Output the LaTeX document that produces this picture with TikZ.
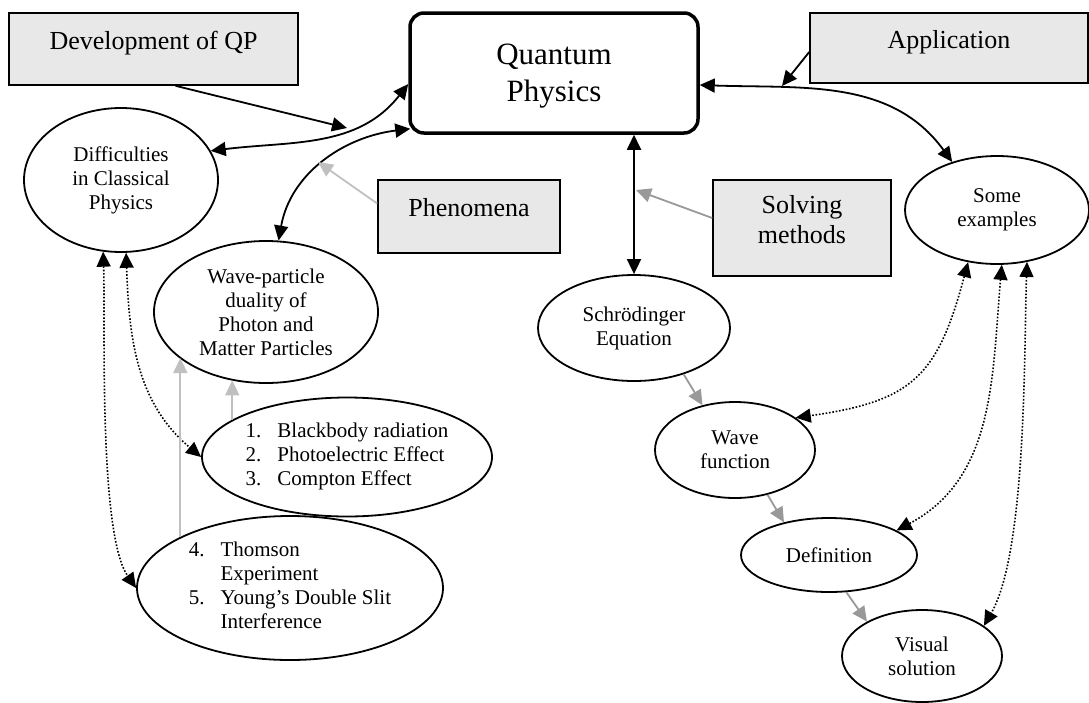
\documentclass[tikz,border=0pt]{standalone}
\usepackage{fontspec}
\setmainfont{Liberation Serif}
\usepackage{tikz}
\usetikzlibrary{shapes}
\usetikzlibrary{arrows.meta}
\definecolor{boxgray}{RGB}{232,232,232}
\definecolor{palegray}{RGB}{192,192,192}
\definecolor{midgray}{RGB}{153,153,153}
\newcommand{\qpfont}{\fontsize{31}{37}\selectfont}
\newcommand{\topicfont}{\fontsize{26}{30}\selectfont}
\newcommand{\ideafont}{\fontsize{21}{24}\selectfont}
\tikzstyle{topic}=[rectangle,draw=black,fill=boxgray,line width=1.6pt,inner sep=0pt,text depth=18pt,align=center,font=\topicfont]
\tikzstyle{qpbox}=[rectangle,rounded corners=14pt,draw=black,line width=3.5pt,inner sep=0pt,text depth=0pt,align=center,font=\qpfont]
\tikzstyle{idea}=[ellipse,draw=black,line width=1.8pt,inner sep=0pt,align=center,font=\ideafont]
\tikzstyle{itemlist}=[font=\ideafont,inner sep=0pt]
\tikzstyle{twoway}=[<->,line width=1.8pt]
\tikzstyle{oneway}=[->,line width=1.8pt]
\tikzstyle{palelink}=[->,draw=palegray,line width=1.8pt]
\tikzstyle{graylink}=[->,draw=midgray,line width=1.8pt]
\tikzstyle{dotlink}=[<->,line width=1.6pt,dash pattern=on 1.6pt off 1.8pt]
\tikzset{every picture/.style={
    x=1pt,y=-1pt,>={Triangle[length=15pt,width=14pt]}
  }
}

\begin{document}
\begin{tikzpicture}
      \useasboundingbox (0,0) rectangle (1089,702);
      \node[topic,minimum width=289,minimum height=72] at (153.5,49) (dev) {Development of QP};
      \node[qpbox,minimum width=288,minimum height=120] at (554,73) (qp) {Quantum\\Physics};
      \node[topic,minimum width=278,minimum height=70] at (949,48) (app) {Application};
      \node[topic,minimum width=182,minimum height=73] at (469,216.5) (phen) {Phenomena};
      \node[topic,minimum width=178,minimum height=96] at (802,228) (solve) {Solving\\methods};
      \node[idea,minimum width=194,minimum height=144] at (121,180) (diff) {Difficulties\\in Classical\\Physics};
      \node[idea,minimum width=224,minimum height=142] at (266,312) (wpd) {Wave-particle\\duality of\\Photon and\\Matter Particles};
      \node[idea,minimum width=290,minimum height=119,
        label={[itemlist]center:{\begin{tabular}{@{}l@{\hspace{16pt}}l@{}}1.&Blackbody radiation\\2.&Photoelectric Effect\\3.&Compton Effect\end{tabular}}}] at (347,457) (bb) {};
      \node[idea,minimum width=306,minimum height=144,
        label={[itemlist]center:{\begin{tabular}{@{}l@{\hspace{16pt}}l@{}}4.&Thomson\\&Experiment\\5.&Young's Double Slit\\&Interference\end{tabular}}}] at (290,588) (thom) {};
      \node[idea,minimum width=192,minimum height=106] at (634,328) (schr) {Schrödinger\\Equation};
      \node[idea,minimum width=160,minimum height=96] at (735,450) (wave) {Wave\\function};
      \node[idea,minimum width=176,minimum height=74] at (829,555) (def) {Definition};
      \node[idea,minimum width=160,minimum height=92] at (922,656) (vis) {Visual\\solution};
      \node[idea,minimum width=184,minimum height=108] at (997,210) (ex) {Some\\examples};
      \coordinate (devtip) at (347,128);
      \coordinate (phentip) at (318,162);
      \coordinate (solvetip) at (636,190);
      \coordinate (apptip) at (782,86);
      \draw[twoway] (diff.18) to[out=7,in=232] ([yshift=-11]qp.west);
      \draw[oneway] ([xshift=22]dev.south) -- (devtip);
      \draw[twoway] (wpd.80) to[out=80,in=187] ([xshift=2,yshift=6]qp.south west);
      \draw[palelink] ([yshift=13]phen.west) -- (phentip);
      \draw[twoway] (schr.north) -- (schr.north |- qp.south);
      \draw[graylink] ([yshift=10]solve.west) -- (solvetip);
      \draw[twoway] ([yshift=-12]qp.east) to[out=-2,in=126] (ex.133);
      \draw[oneway] ([yshift=-4]app.west) -- (apptip);
      \draw[dotlink] (diff.256) to[out=-88,in=125,looseness=0.5] (thom.west);
      \draw[dotlink] (diff.274) to[out=-88,in=140] (bb.west);
      \draw[palelink] (thom.155) -- (thom.155 |- wpd.208);
      \draw[palelink] (bb.162.6) -- (bb.162.6 |- wpd.243);
      \draw[graylink] (schr.317) -- (wave.126);
      \draw[graylink] (wave.306) -- (def.144);
      \draw[graylink] (def.295) -- (vis.148);
      \draw[dotlink] (ex.241) to[out=-105,in=8,looseness=1.3] (wave.28);
      \draw[dotlink] (ex.275) to[out=-95,in=28] (def.20);
      \draw[dotlink] (ex.300) to[out=-92,in=60,looseness=0.6] (vis.26);
    \end{tikzpicture}
\end{document}
